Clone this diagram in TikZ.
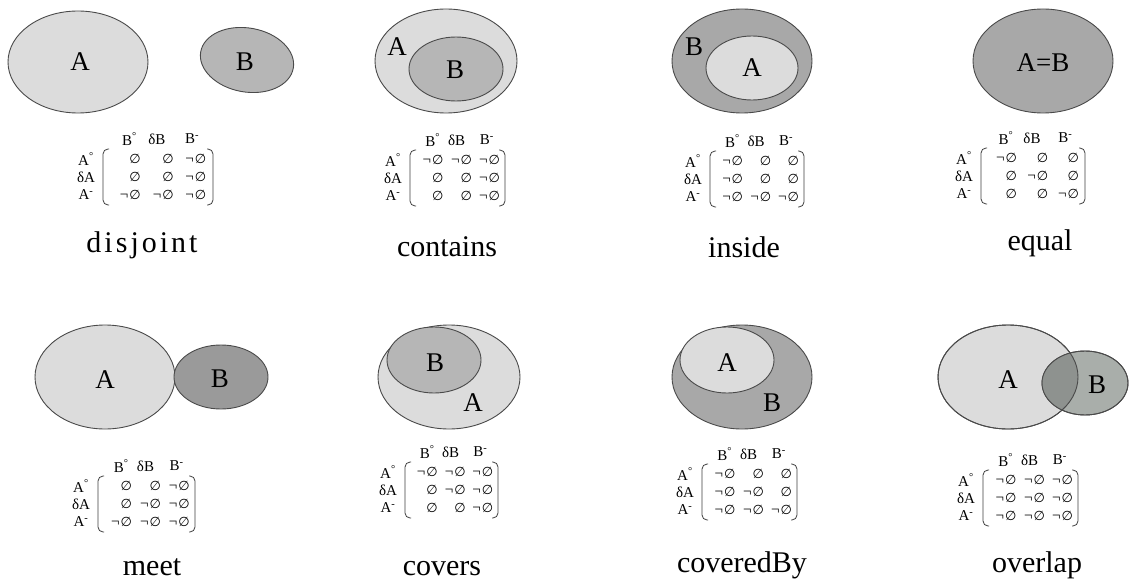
\documentclass[tikz,border=0pt]{standalone}
\usepackage{fontspec}
\setmainfont{Liberation Serif}
\newfontfamily\setsym{DejaVu Sans}

\definecolor{edgegray}{HTML}{4A4A4A}
\definecolor{reglight}{HTML}{DCDCDC}
\definecolor{regmid}{HTML}{B6B6B6}
\definecolor{regdark}{HTML}{A8A8A8}
\definecolor{regdeep}{HTML}{9A9A9A}
\definecolor{regsage}{HTML}{A9AEAA}
\definecolor{regboth}{HTML}{8E928F}

\tikzset{
  region/.style={draw=edgegray, line width=0.9pt},
  caption/.style={font=\fontsize{30}{30}\selectfont, anchor=base, inner sep=0pt},
  setname/.style={font=\fontsize{27}{27}\selectfont, inner sep=0pt},
  mat/.style={font=\fontsize{15}{15}\selectfont, inner sep=0pt},
  bracket/.style={draw=black!75, line width=0.8pt, rounded corners=5pt},
}

% 9-intersection matrix: #1 name, #2 left bracket x, #3 right bracket x,
% #4 header y, #5 nine flags (1 = not empty, 0 = empty), row by row
\newcommand\ninemat[5]{%
  \pgfmathsetmacro\matw{#3-#2}
  \foreach \hd/\fr [count=\c] in {{B\textsuperscript{°}}/0.24, {δB}/0.49, {B\textsuperscript{-}}/0.81}
    \node[mat] (#1-h\c) at ({#2+\matw*\fr}, #4) {\hd};
  \foreach \rl [count=\r] in {{A\textsuperscript{°}}, {δA}, {A\textsuperscript{-}}}
    \node[mat] (#1-r\r) at ({#2-17}, {#4+2+18*\r}) {\rl};
  \draw[bracket] ({#2+6},{#4+10}) -- (#2,{#4+10}) -- (#2,{#4+66}) -- ({#2+6},{#4+66});
  \draw[bracket] ({#3-6},{#4+10}) -- (#3,{#4+10}) -- (#3,{#4+66}) -- ({#3-6},{#4+66});
  \foreach \v [count=\k from 0] in {#5} {
    \pgfmathtruncatemacro\row{div(\k,3)}
    \pgfmathtruncatemacro\col{mod(\k,3)}
    \pgfmathsetmacro\fr{{0.29,0.59,0.885}[\col]}
    \node[mat, anchor=east] (#1-e\row\col) at ({#2+\matw*\fr+6}, {#4+20+18*\row})
      {\ifnum\v=1 ¬\kern1pt\fi{\setsym\fontsize{13}{13}\selectfont ∅}};
  }
}

\begin{document}
\begin{tikzpicture}[x=1pt, y=-1pt]
\useasboundingbox (0,0) rectangle (1129,583);
\fill[white] (0,0) rectangle (1129,583);

% disjoint
\filldraw[region, fill=reglight] (78,62) ellipse [x radius=70, y radius=51];
\filldraw[region, fill=regmid, rotate around={-10:(247,60)}] (247,60) ellipse [x radius=47, y radius=32];
\node[setname] (dA) at (80,62) {A};
\node[setname] (dB) at (245,62) {B};
\ninemat{dm}{103}{213}{139}{0,0,1, 0,0,1, 1,1,1}
\node[caption] (dcap) at (142,252) {d\kern3pt i\kern3pt s\kern3pt j\kern3pt o\kern3pt i\kern3pt n\kern3pt t};

% contains
\filldraw[region, fill=reglight] (446,61) ellipse [x radius=71, y radius=52];
\filldraw[region, fill=regmid] (456,69) ellipse [x radius=47, y radius=32];
\node[setname] (cA) at (397,47) {A};
\node[setname] (cB) at (455,70) {B};
\ninemat{cm}{410}{505}{140}{1,1,1, 0,0,1, 0,0,1}
\node[caption] (ccap) at (447,256) {contains};

% inside
\filldraw[region, fill=regdark] (742,61) ellipse [x radius=70, y radius=52];
\filldraw[region, fill=reglight] (752,68) ellipse [x radius=46, y radius=32];
\node[setname] (iB) at (694,47) {B};
\node[setname] (iA) at (752,68) {A};
\ninemat{im}{710}{804}{141}{1,0,0, 1,0,0, 1,1,1}
\node[caption] (icap) at (744,257) {inside};

% equal
\filldraw[region, fill=regdark] (1043,61) ellipse [x radius=70, y radius=52];
\node[setname] (eAB) at (1043,63) {A=B};
\ninemat{em}{981}{1085}{138}{1,0,0, 0,1,0, 0,0,1}
\node[caption] (ecap) at (1040,250) {equal};

% meet
\filldraw[region, fill=reglight] (105,377) ellipse [x radius=70, y radius=52];
\filldraw[region, fill=regdeep] (221,377) ellipse [x radius=47, y radius=32];
\node[setname] (mA) at (105,380) {A};
\node[setname] (mB) at (220,379) {B};
\ninemat{mm}{98}{195}{466}{0,0,1, 0,1,1, 1,1,1}
\node[caption] (mcap) at (152,575) {meet};

% covers
\filldraw[region, fill=reglight] (449,377) ellipse [x radius=71, y radius=52];
\filldraw[region, fill=regmid] (434,360) ellipse [x radius=47, y radius=33];
\node[setname] (vB) at (435,363) {B};
\node[setname] (vA) at (473,403) {A};
\ninemat{vm}{405}{498}{452}{1,1,1, 0,1,1, 0,0,1}
\node[caption] (vcap) at (442,575) {covers};

% coveredBy
\filldraw[region, fill=regdark] (742,377) ellipse [x radius=70, y radius=52];
\filldraw[region, fill=reglight] (727,360) ellipse [x radius=47, y radius=33];
\node[setname] (yA) at (727,363) {A};
\node[setname] (yB) at (772,403) {B};
\ninemat{ym}{702}{797}{454}{1,0,0, 1,1,0, 1,1,1}
\node[caption] (ycap) at (742,572) {coveredBy};

% overlap
\filldraw[region, fill=reglight] (1008,377) ellipse [x radius=70, y radius=52];
\filldraw[region, fill=regsage] (1085,383) ellipse [x radius=43, y radius=32];
\begin{scope}
  \clip (1008,377) ellipse [x radius=70, y radius=52];
  \fill[regboth] (1085,383) ellipse [x radius=43, y radius=32];
\end{scope}
\draw[region] (1008,377) ellipse [x radius=70, y radius=52];
\draw[region] (1085,383) ellipse [x radius=43, y radius=32];
\node[setname] (oA) at (1008,380) {A};
\node[setname] (oB) at (1097,385) {B};
\ninemat{om}{983}{1078}{460}{1,1,1, 1,1,1, 1,1,1}
\node[caption] (ocap) at (1037,572) {overlap};
\end{tikzpicture}
\end{document}
